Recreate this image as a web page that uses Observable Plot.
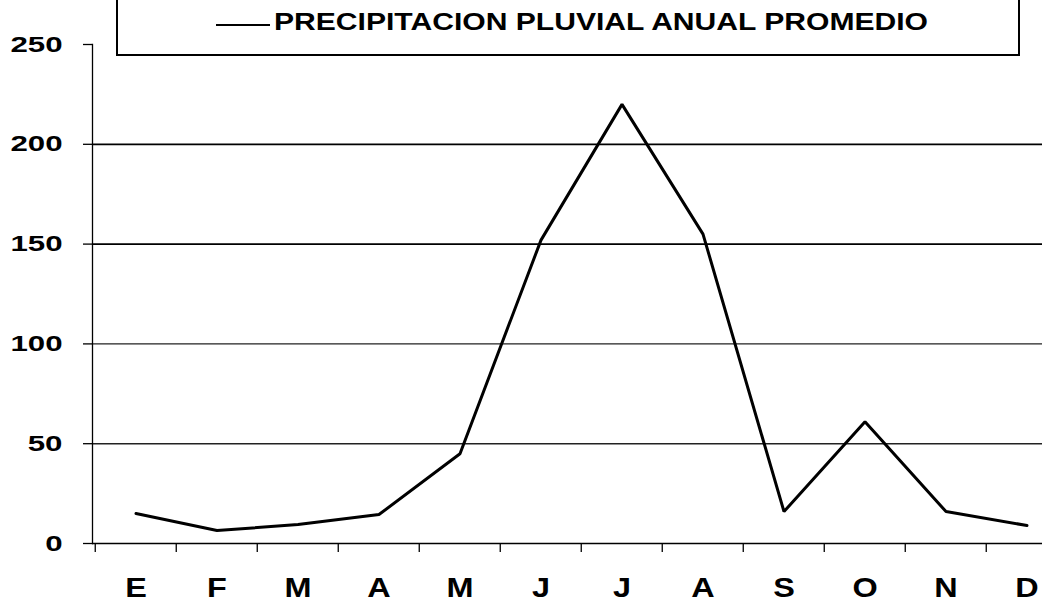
<!DOCTYPE html>
<html>
<head>
<meta charset="utf-8">
<script src="https://cdn.jsdelivr.net/npm/d3@7"></script>
<script src="https://cdn.jsdelivr.net/npm/@observablehq/plot@0.6"></script>
<style>
  html, body { margin: 0; padding: 0; background: #fff; }
  #wrap { position: relative; width: 1042px; height: 602px; overflow: hidden; font-family: "Liberation Sans", Arial, sans-serif; }
  #legend { position: absolute; left: 116px; top: -4px; width: 904px; height: 60px; border: 2px solid #000; border-top: none; box-sizing: border-box; background: #fff; }
  #legend .sample { position: absolute; left: 98px; top: 28px; width: 54px; height: 0; border-top: 2px solid #000; }
  #legend .label { position: absolute; left: 156px; top: 15px; font-weight: bold; font-size: 23.5px; line-height: 23px; color: #000; white-space: nowrap; transform: scaleX(1.28); transform-origin: left center; }
  svg text { font-family: "Liberation Sans", Arial, sans-serif; font-weight: bold; fill: #000; }
</style>
</head>
<body>
<div id="wrap"></div>
<script>
const months = ["E", "F", "M", "A", "M ", "J", "J ", "A ", "S", "O", "N", "D"];
const monthLabels = ["E", "F", "M", "A", "M", "J", "J", "A", "S", "O", "N", "D"];
const rainfall = [15, 6.5, 9.5, 14.5, 45, 152, 220, 155, 16, 61, 16, 9];
const yTicks = [0, 50, 100, 150, 200, 250];
const gridMajor = [150, 200];
const gridMinor = [50, 100];
const legendLabel = "PRECIPITACION PLUVIAL ANUAL PROMEDIO";

const data = months.map((m, i) => ({month: m, label: monthLabels[i], value: rainfall[i]}));

const W = 1042, H = 602, ML = 92, MR = -28;
const bandHalf = (W - MR - ML) / months.length / 2;

const chart = Plot.plot({
  width: W,
  height: H,
  marginLeft: ML,
  marginRight: MR,
  marginTop: 44,
  marginBottom: 59,
  style: {background: "#fff", overflow: "hidden"},
  x: {type: "band", domain: months, padding: 0, label: null},
  y: {domain: [0, 250], label: null},
  marks: [
    Plot.ruleY(gridMinor, {stroke: "#222", strokeWidth: 1.4}),
    Plot.ruleY(gridMajor, {stroke: "#000", strokeWidth: 1.8}),
    Plot.axisY({ticks: yTicks, label: null, tickSize: 9, tickPadding: 21, fontSize: 22, fontWeight: "bold", stroke: "#000", strokeWidth: 1.3}),
    Plot.axisX({tickSize: 9, label: null, text: null, dx: -bandHalf, stroke: "#000", strokeWidth: 1.3}),
    Plot.axisX({tickSize: 0, label: null, tickPadding: 34, fontSize: 27, fontWeight: "bold", tickFormat: (d) => d.trim()}),
    Plot.ruleY([0], {stroke: "#000", strokeWidth: 1.3}),
    Plot.frame({anchor: "left", stroke: "#000", strokeWidth: 1.3}),
    Plot.line(data, {x: "month", y: "value", stroke: "#000", strokeWidth: 3, strokeLinejoin: "miter"})
  ]
});

const wrap = document.getElementById("wrap");
wrap.appendChild(chart);
const legend = document.createElement("div");
legend.id = "legend";
legend.innerHTML = `<div class="sample"></div><div class="label">${legendLabel}</div>`;
wrap.appendChild(legend);

function stretch(selector, s) {
  d3.select(chart).selectAll(selector).each(function() {
    const len = this.getComputedTextLength();
    if (len > 0) {
      this.setAttribute("textLength", (len * s).toFixed(2));
      this.setAttribute("lengthAdjust", "spacingAndGlyphs");
    }
  });
}
stretch('g[aria-label="y-axis tick label"] text', 1.42);
stretch('g[aria-label="x-axis tick label"] text', 1.2);
</script>
</body>
</html>
